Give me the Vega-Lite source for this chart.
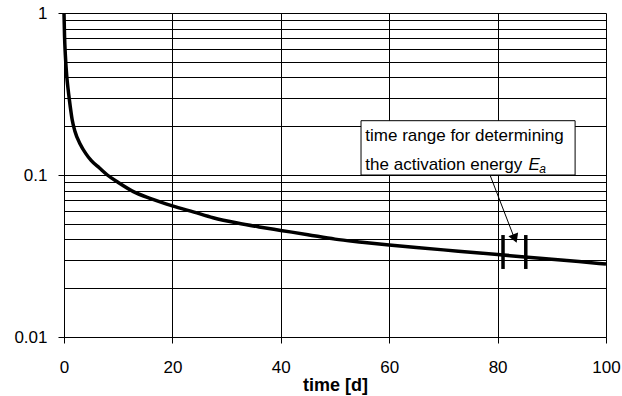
{
  "$schema": "https://vega.github.io/schema/vega-lite/v6.json",
  "width": 542,
  "height": 324,
  "autosize": {"type": "none"},
  "padding": {"left": 64, "top": 13, "right": 16, "bottom": 59},
  "background": "white",
  "config": {
    "view": {"stroke": null},
    "axis": {
      "labelFont": "Liberation Sans",
      "titleFont": "Liberation Sans",
      "labelColor": "#000",
      "titleColor": "#000",
      "domainColor": "#000",
      "domainWidth": 1,
      "tickColor": "#000",
      "tickWidth": 1,
      "gridColor": "#000",
      "gridOpacity": 1,
      "gridWidth": 1
    },
    "text": {"font": "Liberation Sans", "color": "#000"}
  },
  "datasets": {
    "decay": [
      {"t": 0, "value": 1.0},
      {"t": 0.1, "value": 0.72},
      {"t": 0.25, "value": 0.55},
      {"t": 0.5, "value": 0.41},
      {"t": 0.75, "value": 0.34},
      {"t": 1, "value": 0.29},
      {"t": 1.5, "value": 0.22},
      {"t": 2, "value": 0.187},
      {"t": 3, "value": 0.155},
      {"t": 4, "value": 0.136},
      {"t": 5, "value": 0.123},
      {"t": 6.6, "value": 0.11},
      {"t": 8, "value": 0.1},
      {"t": 10, "value": 0.09},
      {"t": 12.8, "value": 0.079},
      {"t": 16, "value": 0.0715},
      {"t": 20, "value": 0.0645},
      {"t": 24, "value": 0.059},
      {"t": 27.5, "value": 0.0545},
      {"t": 32, "value": 0.0505},
      {"t": 36, "value": 0.0478},
      {"t": 40, "value": 0.0455},
      {"t": 45, "value": 0.0428},
      {"t": 50, "value": 0.0402},
      {"t": 55, "value": 0.0385},
      {"t": 60, "value": 0.037},
      {"t": 65, "value": 0.0357},
      {"t": 70, "value": 0.0345},
      {"t": 75, "value": 0.0334},
      {"t": 80, "value": 0.0323},
      {"t": 85, "value": 0.0312},
      {"t": 90, "value": 0.0302},
      {"t": 95, "value": 0.0292},
      {"t": 100, "value": 0.0282}
    ],
    "range_marks": [
      {"t": 81.0, "lo": 0.0263, "hi": 0.0426},
      {"t": 85.2, "lo": 0.0263, "hi": 0.0426}
    ]
  },
  "layer": [
    {
      "data": {"name": "decay"},
      "mark": {"type": "line", "color": "#000", "strokeWidth": 3.5, "interpolate": "monotone"},
      "encoding": {
        "x": {
          "field": "t",
          "type": "quantitative",
          "scale": {"domain": [0, 100], "nice": false},
          "axis": {
            "values": [0, 20, 40, 60, 80, 100],
            "grid": true,
            "tickSize": 6,
            "labelFontSize": 17,
            "labelBaseline": "alphabetic",
            "labelPadding": 29,
            "labelFlush": false,
            "labelOverlap": false,
            "title": "time [d]",
            "titleFontSize": 18,
            "titleFontWeight": "bold",
            "titleBaseline": "alphabetic",
            "titleY": 53
          }
        },
        "y": {
          "field": "value",
          "type": "quantitative",
          "scale": {"type": "log", "domain": [0.01, 1], "nice": false},
          "axis": {
            "values": [0.01, 0.02, 0.03, 0.04, 0.05, 0.06, 0.07, 0.08, 0.09, 0.1, 0.2, 0.3, 0.4, 0.5, 0.6, 0.7, 0.8, 0.9, 1],
            "format": "~g",
            "labelExpr": "datum.value == 0.01 || datum.value == 0.1 || datum.value == 1 ? datum.label : ''",
            "grid": true,
            "tickSize": 6,
            "tickOpacity": {
              "condition": {"test": "datum.value == 0.01 || datum.value == 0.1 || datum.value == 1", "value": 1},
              "value": 0
            },
            "labelFontSize": 17,
            "labelPadding": 11,
            "labelFlush": false,
            "labelOverlap": false,
            "labelBound": false,
            "title": null
          }
        }
      }
    },
    {
      "data": {"name": "range_marks"},
      "mark": {"type": "rule", "color": "#000", "strokeWidth": 3.5},
      "encoding": {
        "x": {"field": "t", "type": "quantitative"},
        "y": {"field": "lo", "type": "quantitative"},
        "y2": {"field": "hi"}
      }
    },
    {
      "data": {"values": [{}]},
      "mark": {"type": "rect", "fill": "white", "stroke": "#000", "strokeWidth": 1},
      "encoding": {
        "x": {"datum": 54.8, "type": "quantitative"},
        "x2": {"datum": 94.3},
        "y": {"datum": 0.2164, "type": "quantitative"},
        "y2": {"datum": 0.1}
      }
    },
    {
      "data": {"values": [{}]},
      "mark": {"type": "rule", "color": "#000", "strokeWidth": 1},
      "encoding": {
        "x": {"datum": 78.6, "type": "quantitative"},
        "y": {"datum": 0.1, "type": "quantitative"},
        "x2": {"datum": 83.0},
        "y2": {"datum": 0.0415}
      }
    },
    {
      "data": {"values": [{}]},
      "mark": {"type": "point", "shape": "triangle-down", "filled": true, "color": "#000", "opacity": 1, "size": 110, "angle": 338},
      "encoding": {
        "x": {"datum": 83.2, "type": "quantitative"},
        "y": {"datum": 0.0405, "type": "quantitative"}
      }
    },
    {
      "data": {"values": [{}]},
      "mark": {"type": "text", "align": "left", "baseline": "alphabetic", "fontSize": 17, "text": "time range for determining"},
      "encoding": {
        "x": {"datum": 55.6, "type": "quantitative"},
        "y": {"datum": 0.1629, "type": "quantitative"}
      }
    },
    {
      "data": {"values": [{}]},
      "mark": {"type": "text", "align": "left", "baseline": "alphabetic", "fontSize": 17, "text": "the activation energy"},
      "encoding": {
        "x": {"datum": 55.6, "type": "quantitative"},
        "y": {"datum": 0.1074, "type": "quantitative"}
      }
    },
    {
      "data": {"values": [{}]},
      "mark": {"type": "text", "align": "left", "baseline": "alphabetic", "fontSize": 17, "fontStyle": "italic", "text": "E"},
      "encoding": {
        "x": {"datum": 85.7, "type": "quantitative"},
        "y": {"datum": 0.1074, "type": "quantitative"}
      }
    },
    {
      "data": {"values": [{}]},
      "mark": {"type": "text", "align": "left", "baseline": "alphabetic", "fontSize": 12, "fontStyle": "italic", "dy": 3, "text": "a"},
      "encoding": {
        "x": {"datum": 87.7, "type": "quantitative"},
        "y": {"datum": 0.1074, "type": "quantitative"}
      }
    }
  ]
}
